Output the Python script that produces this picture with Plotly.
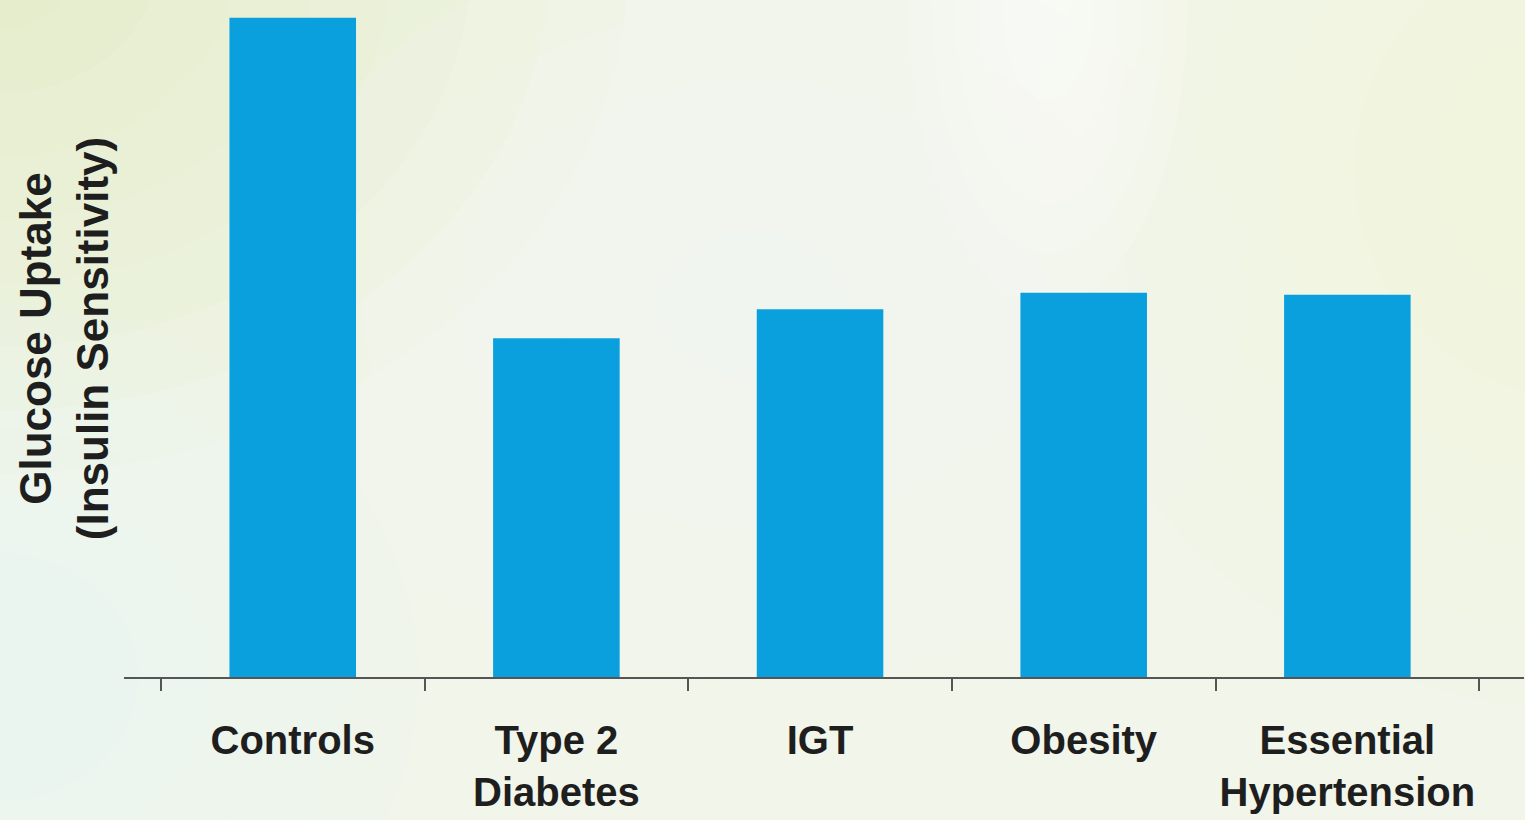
import plotly.graph_objects as go

categories = ["Controls", "Type 2<br>Diabetes", "IGT", "Obesity", "Essential<br>Hypertension"]
glucose_uptake = [100.0, 51.4, 55.8, 58.3, 58.0]

y_title = "Glucose Uptake<br>(Insulin Sensitivity)"

BAR_COLOR = "#0AA0DE"
TEXT_COLOR = "#1E1E1E"
FONT = "Liberation Sans, Arial, sans-serif"

fig = go.Figure(
    go.Bar(
        x=categories,
        y=glucose_uptake,
        marker=dict(color=BAR_COLOR, line=dict(width=0)),
        hoverinfo="x+y",
    )
)


def glow(cx, cy, rx, ry, color, steps, alpha):
    """Soft radial glow made of concentric translucent ellipses (paper coords)."""
    out = []
    for k in range(steps):
        f = 1.0 - k / steps
        out.append(dict(type="circle", xref="paper", yref="paper",
                        x0=cx - rx * f, x1=cx + rx * f, y0=cy - ry * f, y1=cy + ry * f,
                        fillcolor=color, opacity=alpha, line=dict(width=0), layer="below"))
    return out


bg_shapes = []
bg_shapes += glow(-0.09, 1.05, 0.45, 0.75, "#E2ECB8", 8, 0.10)      # top-left yellow-green
bg_shapes += glow(-0.09, 0.0, 0.30, 0.55, "#E8F4F6", 6, 0.12)       # bottom-left bluish
bg_shapes += glow(1.05, 0.75, 0.40, 0.80, "#FBF6DC", 7, 0.13)       # right yellow
bg_shapes += glow(0.66, 1.0, 0.10, 0.45, "#FFFFFF", 6, 0.15)        # top white band
bg_shapes += glow(0.45, 0.55, 0.35, 0.55, "#F6F9F4", 5, 0.12)       # central whitish

fig.update_layout(
    width=1525,
    height=820,
    margin=dict(l=124, r=1, t=0, b=143),
    paper_bgcolor="#F1F5EA",
    plot_bgcolor="rgba(0,0,0,0)",
    bargap=0.52,
    showlegend=False,
    shapes=bg_shapes,
    font=dict(family=FONT, color=TEXT_COLOR),
    xaxis=dict(
        type="category",
        range=[-0.64, 4.67],
        automargin=False,
        tickangle=0,
        showline=True,
        linecolor="#555555",
        linewidth=2,
        ticks="outside",
        tickson="boundaries",
        ticklen=12,
        tickwidth=1.5,
        tickcolor="#555555",
        showgrid=False,
        zeroline=False,
        tickfont=dict(family=FONT, size=40, color=TEXT_COLOR, weight="bold"),
        ticklabelstandoff=27,
    ),
    yaxis=dict(
        range=[0, 102.7],
        showline=False,
        showticklabels=False,
        ticks="",
        showgrid=False,
        zeroline=False,
        automargin=False,
        title=dict(
            text=y_title,
            standoff=0,
            font=dict(family=FONT, size=44, color=TEXT_COLOR, weight="bold"),
        ),
    ),
)

fig.write_html(
    "out.html",
    config={"displayModeBar": False},
    post_script="document.body.style.margin='0';document.body.style.padding='0';",
)
